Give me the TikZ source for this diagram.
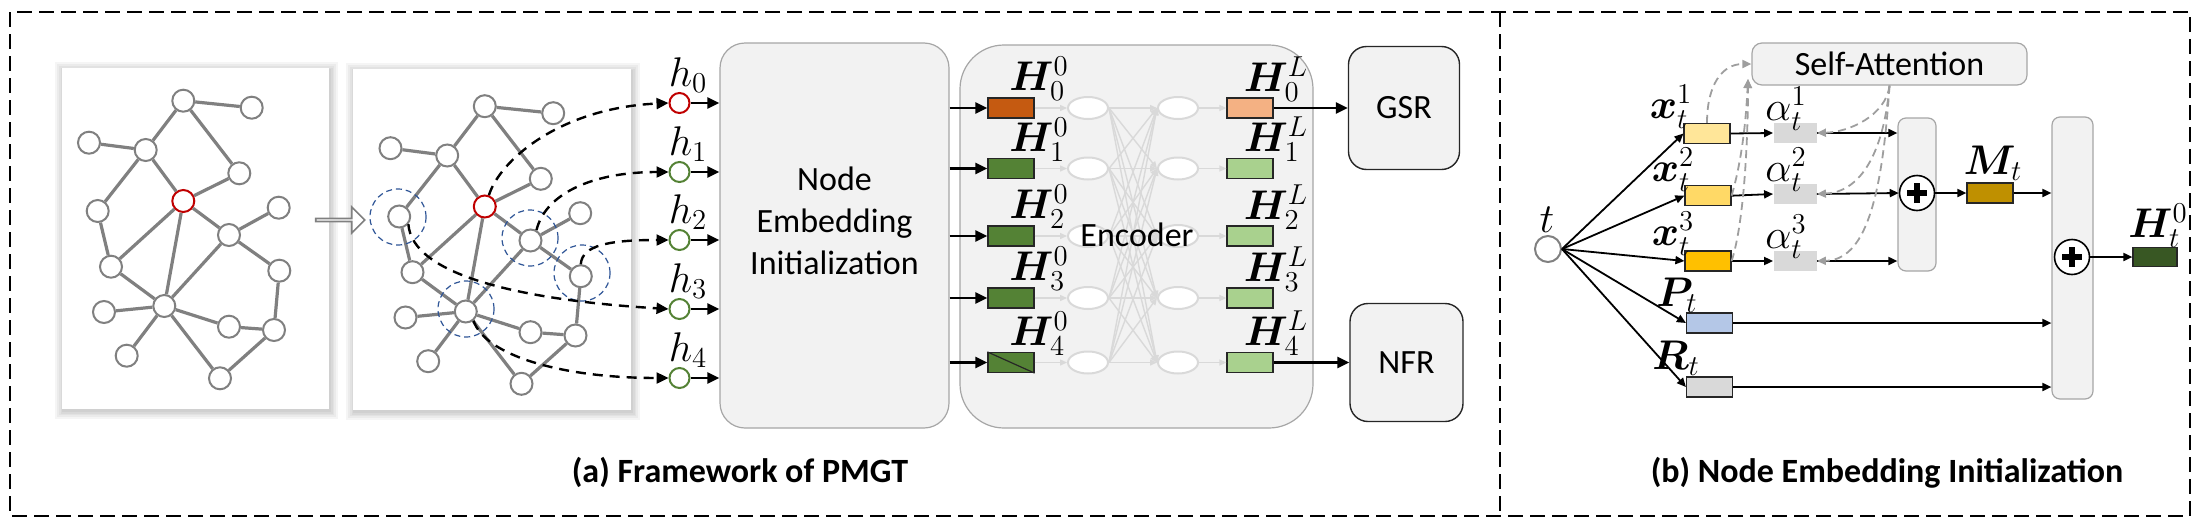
\documentclass[tikz,border=0pt]{standalone}
\usepackage{amsmath}
\usepackage{bm}
\usepackage{fontspec}
\setmainfont{Carlito}
\usetikzlibrary{arrows.meta,shapes.arrows,shapes.geometric,calc}

\definecolor{boxfill}{HTML}{F2F2F2}
\definecolor{boxline}{HTML}{A6A6A6}
\definecolor{gedgec}{HTML}{808080}
\definecolor{redc}{HTML}{C00000}
\definecolor{greenc}{HTML}{548235}
\definecolor{bluec}{HTML}{2F5597}
\definecolor{hzero}{HTML}{C55A11}
\definecolor{hgreen}{HTML}{548235}
\definecolor{hlzero}{HTML}{F4B183}
\definecolor{hlgreen}{HTML}{A9D18E}
\definecolor{rectline}{HTML}{262626}
\definecolor{lgray}{HTML}{D9D9D9}
\definecolor{xone}{HTML}{FFE699}
\definecolor{xtwo}{HTML}{FFD966}
\definecolor{xthree}{HTML}{FFC000}
\definecolor{mcol}{HTML}{BF9000}
\definecolor{htcol}{HTML}{385723}
\definecolor{pcol}{HTML}{B4C7E7}
\definecolor{gdashc}{HTML}{9E9E9E}

\tikzset{
  frame/.style={line width=1.2pt, dash pattern=on 7.5pt off 3.5pt},
  gnode/.style={circle, draw=gedgec, fill=white, line width=1pt, minimum size=11pt, inner sep=0pt},
  gedge/.style={draw=gedgec, line width=1.6pt},
  bcirc/.style={circle, draw=bluec, line width=0.6pt, dash pattern=on 3pt off 2pt, minimum size=28pt, inner sep=0pt},
  dcurve/.style={line width=1.2pt, dash pattern=on 5pt off 3.5pt, -{Triangle[length=6pt,width=5.5pt]}},
  hnode/.style={circle, line width=1pt, minimum size=10pt, inner sep=0pt, fill=white},
  arr/.style={line width=1.3pt, -{Triangle[length=6pt,width=5.5pt]}},
  arrb/.style={line width=0.9pt, -{Triangle[length=4.5pt,width=4pt]}},
  emb/.style={rectangle, draw=rectline, line width=0.6pt, minimum width=23pt, minimum height=10pt, inner sep=0pt},
  arect/.style={rectangle, fill=lgray, minimum width=21.5pt, minimum height=10pt, inner sep=0pt},
  ell/.style={ellipse, draw=lgray, fill=white, line width=1pt, minimum width=20pt, minimum height=11pt, inner sep=0pt},
  garr/.style={draw=lgray, line width=0.7pt, -{Triangle[length=3.5pt,width=3pt]}},
  bigbox/.style={rectangle, draw=boxline, fill=boxfill, line width=0.6pt, inner sep=0pt},
  taskbox/.style={rectangle, draw=rectline, fill=boxfill, line width=0.7pt, rounded corners=9pt, inner sep=0pt},
  sumbox/.style={rectangle, draw=boxline, fill=boxfill, line width=0.6pt, rounded corners=4pt, inner sep=0pt},
  oplus/.style={circle, draw=black, fill=white, line width=0.8pt, minimum size=17.5pt, inner sep=0pt,
    path picture={\draw[line width=3pt] ([xshift=-5pt]path picture bounding box.center) -- ([xshift=5pt]path picture bounding box.center);
                  \draw[line width=3pt] ([yshift=-5pt]path picture bounding box.center) -- ([yshift=5pt]path picture bounding box.center);}},
  gdash/.style={draw=gdashc, line width=0.9pt, dash pattern=on 4pt off 2.5pt, -{Triangle[length=4.5pt,width=4pt]}},
  mlab/.style={font=\fontsize{20.74}{24}\selectfont, inner sep=0pt},
  harrow/.style={single arrow, draw=gedgec, fill=white, line width=0.8pt, minimum height=24.5pt, minimum width=13pt, single arrow head extend=3pt, inner sep=0pt},
}

\newcommand\gbox[4]{%
  \foreach \s in {8,6,4,2.5,1.2}{%
    \fill[black,opacity=0.04] (#1-\s+1,#2-\s+2) rectangle (#3+\s+1,#4+\s+2);}%
  \fill[white] (#1,#2) rectangle (#3,#4);}

\newcommand\mygraph[3]{%
  \begin{scope}[shift={(#2,#3)}]
  \foreach \nn/\xx/\yy in {1/183.3/100.7,2/251.7/107.7,3/89/142.7,4/145.7/150,5/239.3/173.3,6/97.7/211,7/278.7/207.7,8/229/235,9/111/266.7,10/279.3/270.7,11/164.3/306,12/104/312,13/229/326.7,14/274/330,15/126.7/355.7,16/220/378.3}
    {\node[gnode] (#1n\nn) at (\xx,\yy) {};}
  \node[gnode, draw=redc] (#1nr) at (183.3,201) {};
  \foreach \ea/\eb in {1/2,1/4,1/5,3/4,4/r,4/6,5/r,r/8,r/9,r/11,6/9,8/7,8/10,8/11,9/11,10/14,11/12,11/13,11/15,11/16,13/14,14/16}
    {\draw[gedge] (#1n\ea) -- (#1n\eb);}
  \end{scope}}

\begin{document}
\begin{tikzpicture}[x=0.5pt,y=-0.5pt, font=\fontsize{17}{21}\selectfont]
\useasboundingbox (0,0) rectangle (2207,525);

% frames
\draw[frame] (10,12) rectangle (2190,516);
\draw[frame] (1500,12) -- (1500,516);

% ===== panel (a) =====
\gbox{62}{68}{329}{409}
\gbox{353}{69}{631}{410}
\mygraph{ga}{0}{0}
\mygraph{gb}{301.5}{5.5}
\node[harrow] (sarrow) at (339.5,220) {};

\node[bcirc] (bc1) at (398,217) {};
\node[bcirc] (bc2) at (530,238) {};
\node[bcirc] (bc3) at (582,273) {};
\node[bcirc] (bc4) at (466,309) {};

\node[hnode, draw=redc] (h0) at (679.5,103) {};
\foreach \i/\y in {1/172,2/240,3/309,4/378}
  {\node[hnode, draw=greenc] (h\i) at (679.5,\y) {};}
\foreach \i/\y in {0/103,1/172,2/240,3/309,4/378}
  {\node[mlab] (hl\i) at (688,\y-28) {$h_{\i}$};}

\draw[dcurve] (gbnr.70) .. controls (500,160) and (560,108) .. (h0.west);
\draw[dcurve] (gbn8.60) .. controls (545,195) and (590,172) .. (h1.west);
\draw[dcurve] (gbn10.north) .. controls (582,245) and (610,240) .. (h2.west);
\draw[dcurve] (gbn6.-40) .. controls (412,275) and (520,300) .. (h3.west);
\draw[dcurve] (gbn11.-50) .. controls (485,355) and (560,378) .. (h4.west);

\node[bigbox, rounded corners=12.5pt, minimum width=114.5pt, minimum height=192.5pt] (nei) at (834.5,235.5) {};
\node[align=center] (neit) at (834.5,221) {Node\\Embedding\\Initialization};
\foreach \i in {0,...,4} {\draw[arr] (h\i.east) -- (h\i.east -| nei.west);}

\node[bigbox, rounded corners=22pt, minimum width=176.5pt, minimum height=191.5pt] (enc) at (1136.5,236.5) {};

\foreach \i/\y/\ca/\cb in {0/108/hzero/hlzero,1/168.5/hgreen/hlgreen,2/236/hgreen/hlgreen,3/298/hgreen/hlgreen,4/362.5/hgreen/hlgreen}{
  \node[emb, fill=\ca] (A\i) at (1011,\y) {};
  \node[ell] (E\i) at (1088,\y) {};
  \node[ell] (F\i) at (1178,\y) {};
  \node[emb, fill=\cb] (B\i) at (1250,\y) {};
  \node[mlab] (A\i l) at (1039,\y-29) {$\bm{H}^0_{\i}$};
  \node[mlab] (B\i l) at (1276,\y-29) {$\bm{H}^L_{\i}$};
  \draw[arr] (A\i.west -| nei.east) -- (A\i.west);
  \draw[garr] (A\i.east) -- (E\i.west);
  \draw[garr] (F\i.east) -- (B\i.west);
}
\foreach \i in {0,...,4}{\foreach \j in {0,...,4}{\draw[garr] (E\i.east) -- (F\j.west);}}
\draw[rectline, line width=0.6pt] (A4.north west) -- (A4.south east);
\node (enct) at (1137,235) {Encoder};

\node[taskbox, minimum width=55.5pt, minimum height=61.5pt] (gsr) at (1404,108) {GSR};
\node[taskbox, minimum width=56.5pt, minimum height=59pt] (nfr) at (1406.5,362.5) {NFR};
\draw[arr] (B0.east) -- (gsr.west);
\draw[arr] (B4.east) -- (nfr.west);

\node (capa) at (740,472) {\bfseries (a) Framework of PMGT};

% ===== panel (b) =====
\node[circle, draw=gedgec, line width=1pt, fill=white, minimum size=13pt, inner sep=0pt] (t) at (1548,249) {};
\node[mlab] (tl) at (1547,220) {$t$};

\node[emb, fill=xone] (x1) at (1707,133.5) {};
\node[emb, fill=xtwo] (x2) at (1708,195.7) {};
\node[emb, fill=xthree] (x3) at (1708,261) {};
\node[emb, fill=pcol] (P) at (1709.5,323) {};
\node[emb, fill=lgray] (R) at (1709.5,387) {};
\node[mlab] (x1l) at (1671,107) {$\bm{x}_t^1$};
\node[mlab] (x2l) at (1673,170) {$\bm{x}_t^2$};
\node[mlab] (x3l) at (1673,234) {$\bm{x}_t^3$};
\node[mlab] (Pl) at (1677,295) {$\bm{P}_t$};
\node[mlab] (Rl) at (1676,358) {$\bm{R}_t$};

\node[arect] (a1) at (1795,133) {};
\node[arect] (a2) at (1795,194) {};
\node[arect] (a3) at (1795,261) {};
\node[mlab] (a1l) at (1786,109) {$\alpha_t^1$};
\node[mlab] (a2l) at (1786,170) {$\alpha_t^2$};
\node[mlab] (a3l) at (1786,237) {$\alpha_t^3$};

\node[sumbox, minimum width=19pt, minimum height=76.5pt] (s1) at (1917,194.5) {};
\node[oplus] (p1) at (1917,193) {};
\node[emb, fill=mcol] (M) at (1990,193) {};
\node[mlab] (Ml) at (1993,163) {$\bm{M}_t$};
\node[sumbox, minimum width=20.5pt, minimum height=141pt] (s2) at (2072.5,258) {};
\node[oplus] (p2) at (2072,257) {};
\node[emb, fill=htcol, minimum width=22pt, minimum height=9.5pt] (Ht) at (2155,257) {};
\node[mlab] (Htl) at (2158,226) {$\bm{H}_t^0$};

\node[rectangle, draw=boxline, fill=boxfill, line width=0.6pt, rounded corners=5pt, minimum width=137.5pt, minimum height=21pt, inner sep=0pt] (SA) at (1889.5,64) {Self-Attention};
\coordinate (saL) at (1748,79);

\foreach \n in {x1,x2,x3,P,R} {\draw[arrb] (t.east) -- (\n.west);}
\foreach \i in {1,2,3} {\draw[arrb] (x\i.east) -- (a\i.west);}
\draw[arrb] (a1.east) -- (a1.east -| s1.west);
\draw[arrb] (a2.east) -- (p1.west);
\draw[arrb] (a3.east) -- (a3.east -| s1.west);
\draw[arrb] (p1.east) -- (M.west);
\draw[arrb] (M.east) -- (M.east -| s2.west);
\draw[arrb] (p2.east) -- (Ht.west);
\draw[arrb] (P.east) -- (P.east -| s2.west);
\draw[arrb] (R.east) -- (R.east -| s2.west);

\draw[gdash] (x1.north) .. controls (1707,85) and (1722,64) .. (SA.west);
\draw[gdash] (x2.east) .. controls (1742,160) and (1746,120) .. (saL);
\draw[gdash] (x3.east) .. controls (1745,220) and (1748,130) .. (saL);
\draw[gdash] (SA.south) .. controls (1886,115) and (1850,132) .. (a1.east);
\draw[gdash] (SA.south) .. controls (1884,150) and (1862,192) .. (a2.east);
\draw[gdash] (SA.south) .. controls (1882,200) and (1865,260) .. (a3.east);

\node (capb) at (1887,473) {\bfseries (b) Node Embedding Initialization};
\end{tikzpicture}
\end{document}
